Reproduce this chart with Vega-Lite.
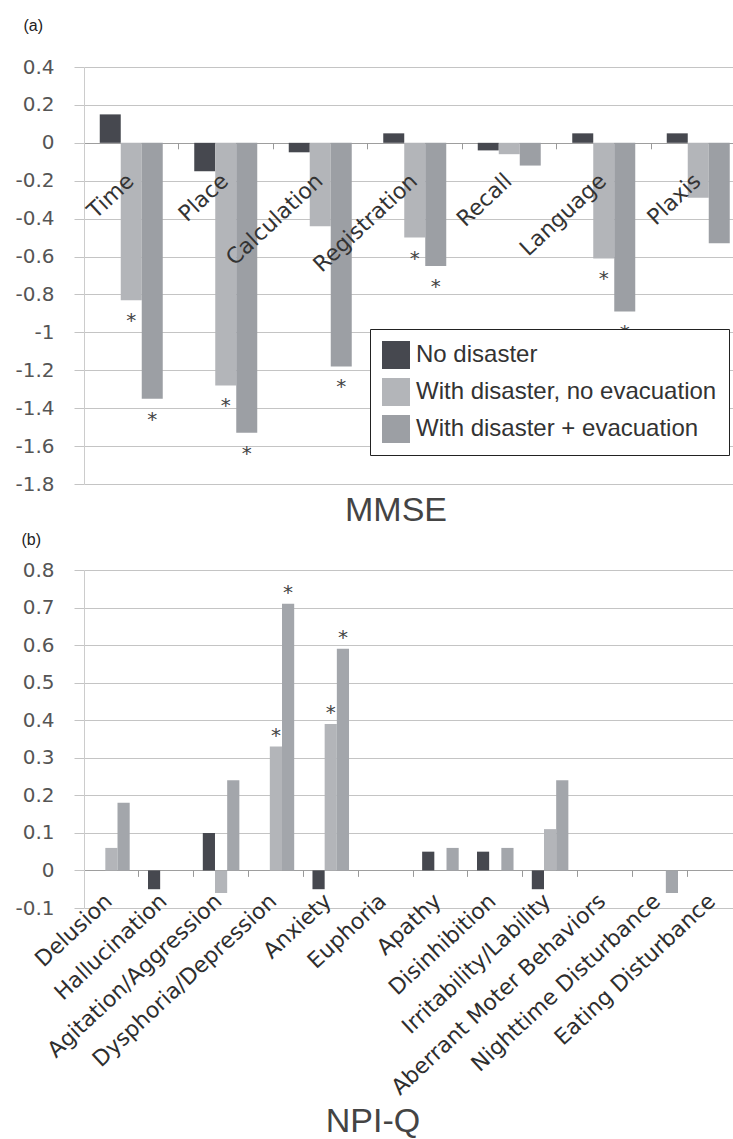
{
  "$schema": "https://vega.github.io/schema/vega-lite/v6.json",
  "background": "white",
  "padding": {"left": 14, "top": 17, "right": 0, "bottom": 0},
  "spacing": 3,
  "config": {"view": {"stroke": null}, "axis": {"grid": false}},
  "resolve": {"scale": {"color": "independent", "x": "independent", "y": "independent", "xOffset": "independent"}},
  "datasets": {
    "mmse": [
      {"cat": "Time", "group": "No disaster", "value": 0.15, "sig": false},
      {"cat": "Time", "group": "With disaster, no evacuation", "value": -0.83, "sig": true},
      {"cat": "Time", "group": "With disaster + evacuation", "value": -1.35, "sig": true},
      {"cat": "Place", "group": "No disaster", "value": -0.15, "sig": false},
      {"cat": "Place", "group": "With disaster, no evacuation", "value": -1.28, "sig": true},
      {"cat": "Place", "group": "With disaster + evacuation", "value": -1.53, "sig": true},
      {"cat": "Calculation", "group": "No disaster", "value": -0.05, "sig": false},
      {"cat": "Calculation", "group": "With disaster, no evacuation", "value": -0.44, "sig": false},
      {"cat": "Calculation", "group": "With disaster + evacuation", "value": -1.18, "sig": true},
      {"cat": "Registration", "group": "No disaster", "value": 0.05, "sig": false},
      {"cat": "Registration", "group": "With disaster, no evacuation", "value": -0.5, "sig": true},
      {"cat": "Registration", "group": "With disaster + evacuation", "value": -0.65, "sig": true},
      {"cat": "Recall", "group": "No disaster", "value": -0.04, "sig": false},
      {"cat": "Recall", "group": "With disaster, no evacuation", "value": -0.06, "sig": false},
      {"cat": "Recall", "group": "With disaster + evacuation", "value": -0.12, "sig": false},
      {"cat": "Language", "group": "No disaster", "value": 0.05, "sig": false},
      {"cat": "Language", "group": "With disaster, no evacuation", "value": -0.61, "sig": true},
      {"cat": "Language", "group": "With disaster + evacuation", "value": -0.89, "sig": true},
      {"cat": "Plaxis", "group": "No disaster", "value": 0.05, "sig": false},
      {"cat": "Plaxis", "group": "With disaster, no evacuation", "value": -0.29, "sig": false},
      {"cat": "Plaxis", "group": "With disaster + evacuation", "value": -0.53, "sig": false}
    ],
    "npi": [
      {"cat": "Delusion", "group": "No disaster", "value": 0, "sig": false},
      {"cat": "Delusion", "group": "With disaster, no evacuation", "value": 0.06, "sig": false},
      {"cat": "Delusion", "group": "With disaster + evacuation", "value": 0.18, "sig": false},
      {"cat": "Hallucination", "group": "No disaster", "value": -0.05, "sig": false},
      {"cat": "Hallucination", "group": "With disaster, no evacuation", "value": 0, "sig": false},
      {"cat": "Hallucination", "group": "With disaster + evacuation", "value": 0, "sig": false},
      {"cat": "Agitation/Aggression", "group": "No disaster", "value": 0.1, "sig": false},
      {"cat": "Agitation/Aggression", "group": "With disaster, no evacuation", "value": -0.06, "sig": false},
      {"cat": "Agitation/Aggression", "group": "With disaster + evacuation", "value": 0.24, "sig": false},
      {"cat": "Dysphoria/Depression", "group": "No disaster", "value": 0, "sig": false},
      {"cat": "Dysphoria/Depression", "group": "With disaster, no evacuation", "value": 0.33, "sig": true},
      {"cat": "Dysphoria/Depression", "group": "With disaster + evacuation", "value": 0.71, "sig": true},
      {"cat": "Anxiety", "group": "No disaster", "value": -0.05, "sig": false},
      {"cat": "Anxiety", "group": "With disaster, no evacuation", "value": 0.39, "sig": true},
      {"cat": "Anxiety", "group": "With disaster + evacuation", "value": 0.59, "sig": true},
      {"cat": "Euphoria", "group": "No disaster", "value": 0, "sig": false},
      {"cat": "Euphoria", "group": "With disaster, no evacuation", "value": 0, "sig": false},
      {"cat": "Euphoria", "group": "With disaster + evacuation", "value": 0, "sig": false},
      {"cat": "Apathy", "group": "No disaster", "value": 0.05, "sig": false},
      {"cat": "Apathy", "group": "With disaster, no evacuation", "value": 0, "sig": false},
      {"cat": "Apathy", "group": "With disaster + evacuation", "value": 0.06, "sig": false},
      {"cat": "Disinhibition", "group": "No disaster", "value": 0.05, "sig": false},
      {"cat": "Disinhibition", "group": "With disaster, no evacuation", "value": 0, "sig": false},
      {"cat": "Disinhibition", "group": "With disaster + evacuation", "value": 0.06, "sig": false},
      {"cat": "Irritability/Lability", "group": "No disaster", "value": -0.05, "sig": false},
      {"cat": "Irritability/Lability", "group": "With disaster, no evacuation", "value": 0.11, "sig": false},
      {"cat": "Irritability/Lability", "group": "With disaster + evacuation", "value": 0.24, "sig": false},
      {"cat": "Aberrant Moter Behaviors", "group": "No disaster", "value": 0, "sig": false},
      {"cat": "Aberrant Moter Behaviors", "group": "With disaster, no evacuation", "value": 0, "sig": false},
      {"cat": "Aberrant Moter Behaviors", "group": "With disaster + evacuation", "value": 0, "sig": false},
      {"cat": "Nighttime Disturbance", "group": "No disaster", "value": 0, "sig": false},
      {"cat": "Nighttime Disturbance", "group": "With disaster, no evacuation", "value": 0, "sig": false},
      {"cat": "Nighttime Disturbance", "group": "With disaster + evacuation", "value": -0.06, "sig": false},
      {"cat": "Eating Disturbance", "group": "No disaster", "value": 0, "sig": false},
      {"cat": "Eating Disturbance", "group": "With disaster, no evacuation", "value": 0, "sig": false},
      {"cat": "Eating Disturbance", "group": "With disaster + evacuation", "value": 0, "sig": false}
    ]
  },
  "vconcat": [
    {
      "width": 650,
      "height": 417,
      "data": {"name": "mmse"},
      "title": {"text": "MMSE", "orient": "bottom", "anchor": "middle", "frame": "group", "dx": -13, "offset": 0, "font": "Liberation Sans", "fontSize": 34, "fontWeight": "normal", "color": "#444444"},
      "encoding": {
        "x": {
          "field": "cat", "type": "nominal", "sort": null,
          "scale": {"domain": ["Time", "Place", "Calculation", "Registration", "Recall", "Language", "Plaxis"], "range": [0, 661.5], "paddingInner": 0, "paddingOuter": 0},
          "axis": {"orient": "bottom", "offset": -341.2, "bandPosition": 0, "labels": false, "domain": false, "ticks": true, "tickSize": 6, "tickColor": "#999999", "grid": false, "title": null}
        },
        "y": {
          "field": "value", "type": "quantitative",
          "scale": {"domain": [-1.8, 0.4], "nice": false, "zero": false},
          "axis": {
            "values": [-1.8, -1.6, -1.4, -1.2, -1, -0.8, -0.6, -0.4, -0.2, 0, 0.2, 0.4],
            "labelExpr": "datum.value < 0 ? '-' + format(-datum.value, '.1~f') : format(datum.value, '.1~f')",
            "labelFont": "DejaVu Sans", "labelFontSize": 20, "labelColor": "#555555", "labelPadding": 20,
            "tickSize": 10, "tickColor": "#c4c4c4", "domainColor": "#cccccc",
            "grid": true, "gridColor": {"condition": {"test": "datum.value === 0", "value": "#9e9e9e"}, "value": "#c4c4c4"},
            "title": "(a)", "titleAngle": 0, "titleAlign": "left", "titleBaseline": "top", "titleX": -61, "titleY": -50,
            "titleFont": "Liberation Sans", "titleFontSize": 16, "titleFontWeight": "normal", "titleColor": "#222222"
          }
        }
      },
      "layer": [
        {
          "mark": {"type": "bar"},
          "encoding": {
            "xOffset": {"field": "group", "type": "nominal", "scale": {"domain": ["No disaster", "With disaster, no evacuation", "With disaster + evacuation"], "paddingInner": 0, "paddingOuter": 0.75}},
            "color": {
              "field": "group", "type": "nominal",
              "scale": {"domain": ["No disaster", "With disaster, no evacuation", "With disaster + evacuation"], "range": ["#46484f", "#b3b5b9", "#9c9fa4"]},
              "legend": {"orient": "none", "legendX": 286, "legendY": 262, "title": null, "direction": "vertical", "symbolType": "square", "symbolSize": 784, "symbolStrokeWidth": 0, "labelFont": "Liberation Sans", "labelFontSize": 24, "labelColor": "#333333", "labelOffset": 6, "labelLimit": 500, "rowPadding": 9, "padding": 12, "strokeColor": "#222222", "fillColor": "#ffffff"}
            }
          }
        },
        {
          "transform": [{"filter": "datum.sig && datum.value < 0"}],
          "mark": {"type": "text", "text": "*", "dy": 21, "baseline": "middle", "font": "DejaVu Sans", "fontSize": 20, "color": "#444444"},
          "encoding": {"xOffset": {"field": "group", "type": "nominal"}}
        },
        {
          "transform": [{"filter": "datum.group === 'No disaster'"}],
          "mark": {"type": "text", "angle": -43, "align": "right", "baseline": "alphabetic", "dx": -24.4, "dy": 32, "font": "DejaVu Sans", "fontSize": 22, "color": "#333333"},
          "encoding": {"y": {"datum": 0}, "text": {"field": "cat"}}
        }
      ]
    },
    {
      "width": 650,
      "height": 338,
      "data": {"name": "npi"},
      "title": {"text": "NPI-Q", "orient": "bottom", "anchor": "middle", "frame": "group", "dx": -36, "offset": 6, "font": "Liberation Sans", "fontSize": 34, "fontWeight": "normal", "color": "#444444"},
      "encoding": {
        "x": {
          "field": "cat", "type": "nominal", "sort": null,
          "scale": {"domain": ["Delusion", "Hallucination", "Agitation/Aggression", "Dysphoria/Depression", "Anxiety", "Euphoria", "Apathy", "Disinhibition", "Irritability/Lability", "Aberrant Moter Behaviors", "Nighttime Disturbance", "Eating Disturbance"], "range": [0, 658], "paddingInner": 0, "paddingOuter": 0},
          "axis": {"orient": "bottom", "offset": -37.6, "bandPosition": 0, "labels": false, "domain": false, "ticks": true, "tickSize": 6, "tickColor": "#999999", "grid": false, "title": null}
        },
        "y": {
          "field": "value", "type": "quantitative",
          "scale": {"domain": [-0.1, 0.8], "nice": false, "zero": false},
          "axis": {
            "values": [-0.1, 0, 0.1, 0.2, 0.3, 0.4, 0.5, 0.6, 0.7, 0.8],
            "labelExpr": "datum.value < 0 ? '-' + format(-datum.value, '.1~f') : format(datum.value, '.1~f')",
            "labelFont": "DejaVu Sans", "labelFontSize": 20, "labelColor": "#555555", "labelPadding": 20,
            "tickSize": 10, "tickColor": "#c4c4c4", "domainColor": "#cccccc",
            "grid": true, "gridColor": {"condition": {"test": "datum.value === 0", "value": "#9e9e9e"}, "value": "#c4c4c4"},
            "title": "(b)", "titleAngle": 0, "titleAlign": "left", "titleBaseline": "top", "titleX": -63, "titleY": -39,
            "titleFont": "Liberation Sans", "titleFontSize": 16, "titleFontWeight": "normal", "titleColor": "#222222"
          }
        }
      },
      "layer": [
        {
          "mark": {"type": "bar"},
          "encoding": {
            "xOffset": {"field": "group", "type": "nominal", "scale": {"domain": ["No disaster", "With disaster, no evacuation", "With disaster + evacuation"], "paddingInner": 0, "paddingOuter": 0.75}},
            "color": {
              "field": "group", "type": "nominal",
              "scale": {"domain": ["No disaster", "With disaster, no evacuation", "With disaster + evacuation"], "range": ["#46484f", "#b3b5b9", "#a3a6ab"]},
              "legend": null
            }
          }
        },
        {
          "transform": [{"filter": "datum.sig && datum.value > 0"}],
          "mark": {"type": "text", "text": "*", "dy": -11, "baseline": "middle", "font": "DejaVu Sans", "fontSize": 20, "color": "#444444"},
          "encoding": {"xOffset": {"field": "group", "type": "nominal"}}
        },
        {
          "transform": [{"filter": "datum.group === 'No disaster'"}],
          "mark": {"type": "text", "angle": -43, "align": "right", "baseline": "alphabetic", "dx": 4.9, "dy": -2.3, "font": "DejaVu Sans", "fontSize": 22, "color": "#2e2e2e"},
          "encoding": {"y": {"datum": -0.1}, "text": {"field": "cat"}}
        }
      ]
    }
  ]
}
